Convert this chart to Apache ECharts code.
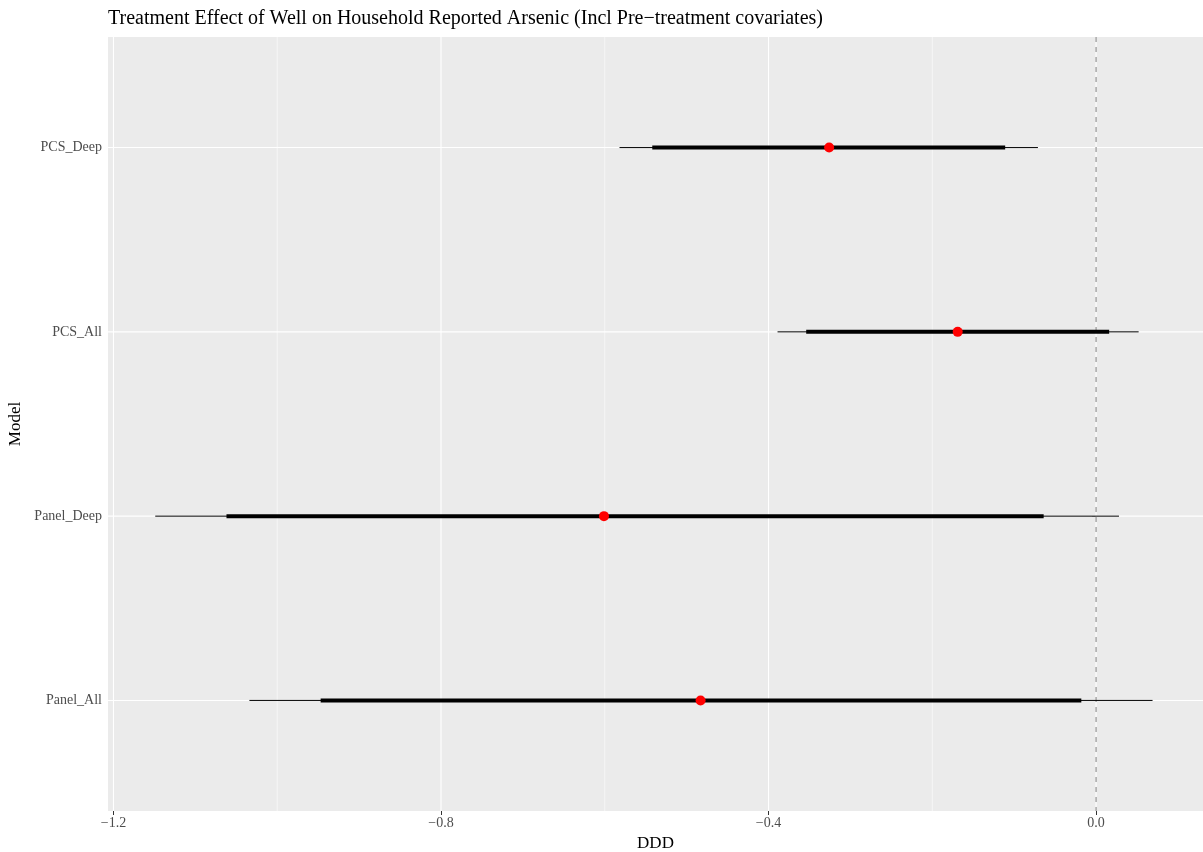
<!DOCTYPE html>
<html><head><meta charset="utf-8">
<script src="https://cdn.jsdelivr.net/npm/echarts@6/dist/echarts.min.js"></script>
<style>html,body{margin:0;padding:0;background:#fff}#c{width:1203px;height:852px}</style>
</head><body><div id="c"></div>
<script>
const models = ['Panel_All', 'Panel_Deep', 'PCS_All', 'PCS_Deep'];
const outerLow = [-1.034, -1.149, -0.389, -0.582];
const innerLow = [-0.947, -1.062, -0.354, -0.542];
const estimate = [-0.483, -0.601, -0.169, -0.326];
const innerHigh = [-0.018, -0.064, 0.016, -0.111];
const outerHigh = [0.069, 0.028, 0.052, -0.071];
const xTicks = [-1.2, -0.8, -0.4, 0.0];
const xMinor = [-1.0, -0.6, -0.2];

const fmt = v => (v < 0 ? '\u2212' : '') + Math.abs(v).toFixed(1);
const chart = echarts.init(document.getElementById('c'));
const font = 'Liberation Serif';

const gridData = [];
xTicks.forEach(v => gridData.push(['v', v, 1.1]));
xMinor.forEach(v => gridData.push(['v', v, 0.55]));
models.forEach((m, i) => gridData.push(['h', i + 1, 1.1]));

const barData = models.map((m, i) => [i + 1, outerLow[i], innerLow[i], estimate[i], innerHigh[i], outerHigh[i]]);

chart.setOption({
  animation: false,
  backgroundColor: '#fff',
  title: {
    text: 'Treatment Effect of Well on Household Reported Arsenic (Incl Pre\u2212treatment covariates)',
    left: 103, top: 4,
    textStyle: { fontFamily: font, fontSize: 20, fontWeight: 'normal', color: '#000' }
  },
  grid: { left: 108, top: 37, width: 1095, height: 774, backgroundColor: '#EBEBEB', show: true, borderWidth: 0,
          containLabel: false, outerBoundsMode: 'none' },
  xAxis: {
    type: 'value', min: -1.2067, max: 0.1306,
    name: 'DDD', nameLocation: 'middle', nameGap: 22,
    nameTextStyle: { fontFamily: font, fontSize: 17, color: '#000' },
    axisLine: { show: true, lineStyle: { color: 'rgba(0,0,0,0)' } },
    splitLine: { show: false },
    axisTick: { show: true, customValues: xTicks, length: 4, lineStyle: { color: '#333', width: 1 } },
    axisLabel: { customValues: xTicks, formatter: fmt, fontFamily: font, fontSize: 14, color: '#4d4d4d', margin: 5 }
  },
  yAxis: {
    type: 'value', min: 0.4, max: 4.6,
    name: 'Model', nameLocation: 'middle', nameGap: 84, nameRotate: 90, nameMoveOverlap: false,
    nameTextStyle: { fontFamily: font, fontSize: 17, color: '#000' },
    axisLine: { show: true, lineStyle: { color: 'rgba(0,0,0,0)' } },
    splitLine: { show: false },
    axisTick: { show: true, customValues: [1, 2, 3, 4], length: 4, lineStyle: { color: '#333', width: 1 } },
    axisLabel: { customValues: [1, 2, 3, 4], formatter: v => models[Math.round(v) - 1] || '', fontFamily: font, fontSize: 14, color: '#4d4d4d', margin: 6 }
  },
  series: [
    {
      type: 'custom', z: 1, silent: true, clip: true,
      data: gridData,
      renderItem: (params, api) => {
        const cs = params.coordSys;
        const kind = gridData[params.dataIndex][0];
        const val = gridData[params.dataIndex][1];
        const w = gridData[params.dataIndex][2];
        let shape;
        if (kind === 'v') {
          const x = api.coord([val, 1])[0];
          shape = { x1: x, y1: cs.y, x2: x, y2: cs.y + cs.height };
        } else {
          const y = api.coord([0, val])[1];
          shape = { x1: cs.x, y1: y, x2: cs.x + cs.width, y2: y };
        }
        return { type: 'line', shape, style: { stroke: '#fff', lineWidth: w } };
      }
    },
    {
      type: 'custom', z: 2, silent: true,
      data: [[0]],
      renderItem: (params, api) => {
        const cs = params.coordSys;
        const x = api.coord([0, 1])[0];
        return { type: 'line', shape: { x1: x, y1: cs.y, x2: x, y2: cs.y + cs.height },
          style: { stroke: '#7f7f7f', lineWidth: 1, lineDash: [5, 5] } };
      }
    },
    {
      type: 'custom', z: 3, silent: true,
      data: barData,
      renderItem: (params, api) => {
        const y = api.value(0);
        const p = k => api.coord([api.value(k), y]);
        const a = p(1), b = p(2), c = p(3), d = p(4), e = p(5);
        return { type: 'group', children: [
          { type: 'line', shape: { x1: a[0], y1: a[1], x2: e[0], y2: e[1] }, style: { stroke: '#000', lineWidth: 1 } },
          { type: 'line', shape: { x1: b[0], y1: b[1], x2: d[0], y2: d[1] }, style: { stroke: '#000', lineWidth: 4 } },
          { type: 'circle', shape: { cx: c[0], cy: c[1], r: 5 }, style: { fill: '#FF0000' } }
        ] };
      }
    }
  ]
});
</script></body></html>
